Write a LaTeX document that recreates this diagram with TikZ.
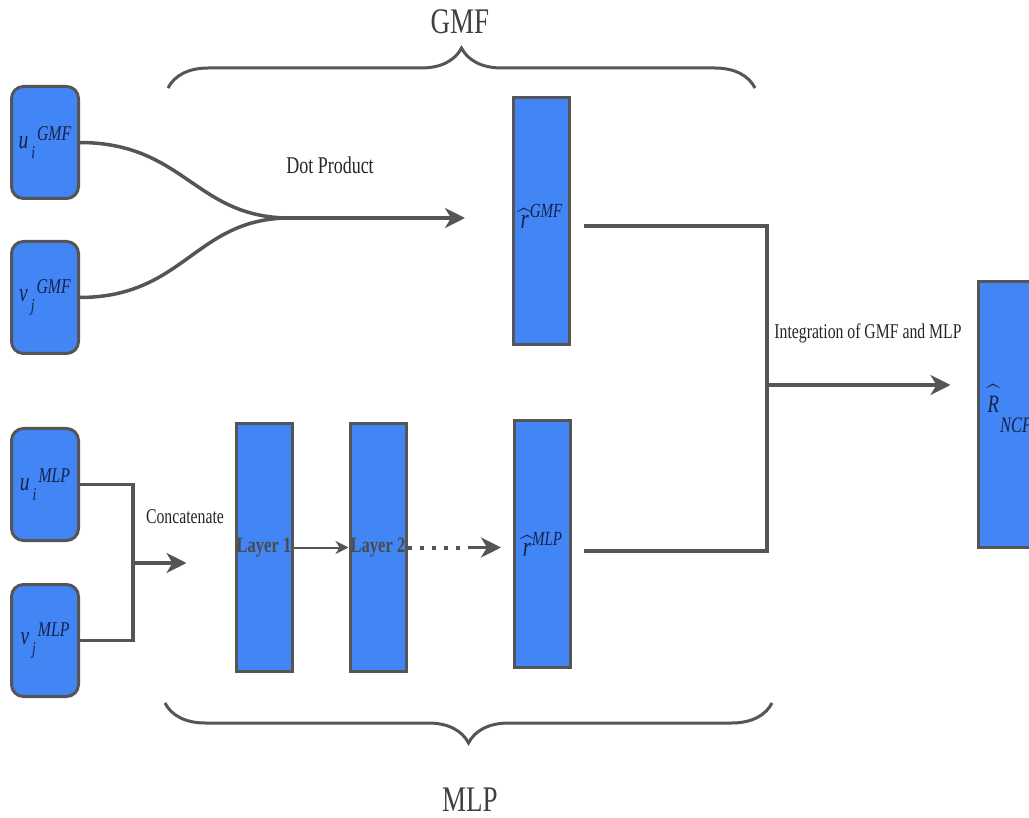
\documentclass[tikz,border=0pt]{standalone}
\usepackage{fix-cm}
\usepackage{exscale}
\usepackage{fontspec}
\setmainfont{Liberation Serif}[FakeStretch=0.75]
\usetikzlibrary{arrows.meta,positioning,decorations.pathreplacing}
\definecolor{boxblue}{HTML}{4285F4}
\definecolor{edgegray}{HTML}{555555}
\definecolor{inkblue}{HTML}{14224A}
\definecolor{layergray}{HTML}{4A4A4A}
% letter with sub- and superscript, as in the embedding blocks
\newcommand{\embtext}[3]{{\fontsize{26}{26}\selectfont\textit{#1}}\kern3pt\raisebox{-10pt}{\fontsize{18}{18}\selectfont\textit{#2}}\kern2pt\raisebox{8pt}{\fontsize{21}{21}\selectfont\textit{#3}}}
% letter with a hat over it
\newcommand{\hatletter}[2]{\ooalign{\textit{#1}\cr\hidewidth\raisebox{#2}{$\widehat{\phantom{r}}$}\hidewidth\cr}}

\begin{document}
\begin{tikzpicture}[x=1pt,y=-1pt,
		embbox/.style={draw=edgegray, line width=3pt, fill=boxblue, rounded corners=12pt,
			minimum width=67pt, minimum height=112pt, inner sep=0pt, text=inkblue},
		layerbox/.style={draw=edgegray, line width=3pt, fill=boxblue,
			minimum width=56pt, minimum height=247pt, inner sep=0pt},
		conn/.style={draw=edgegray, line width=3.5pt},
		arr/.style={conn, -{Stealth[length=20pt,width=20pt,inset=6pt]}},
		caption/.style={text=black!85, font=\fontsize{21}{24}\selectfont},
		bigcaption/.style={text=black!75, font=\fontsize{36}{40}\selectfont},
		curly/.style={draw=edgegray, line width=3pt, decorate,
			decoration={brace, amplitude=40pt}}]
		\useasboundingbox (0,0) rectangle (1029,818);
		\clip (0,0) rectangle (1029,818);
		
		%Embedding blocks
		\node[embbox] (ugmf) at (45,142.5){\embtext{u}{i}{GMF}};
		\node[embbox, below=40pt of ugmf] (vgmf){\embtext{v}{j}{GMF}};
		\node[embbox] (umlp) at (45,484.5){\embtext{u}{i}{MLP}};
		\node[embbox, below=41pt of umlp] (vmlp){\embtext{v}{j}{MLP}};
		
		%GMF part
		\node[layerbox, text=inkblue, font=\fontsize{28}{28}\selectfont] (rgmf) at (541.5,221.5){\raisebox{10pt}{\hatletter{r}{1pt}\kern1pt\raisebox{11pt}{\fontsize{20}{20}\selectfont\textit{GMF}}}};
		\coordinate (dotjoin) at (290,218);
		\coordinate (dotend) at (465,218);
		\draw[conn] (ugmf.east) .. controls (185,143) and (195,218) .. (dotjoin);
		\draw[conn] (vgmf.east) .. controls (185,297) and (195,218) .. (dotjoin);
		\draw[arr] (dotjoin) -- (dotend);
		\node[caption, font=\fontsize{24}{26}\selectfont] (dotlabel) at (330,165){Dot Product};
		
		%MLP part
		\node[layerbox, text=layergray, font=\bfseries\fontsize{22}{22}\selectfont] (layer1) at (264,547.5){Layer 1};
		\node[layerbox, text=layergray, font=\bfseries\fontsize{22}{22}\selectfont, right=55pt of layer1] (layer2){Layer 2};
		\node[layerbox, text=inkblue, font=\fontsize{28}{28}\selectfont] (rmlp) at (542.5,544){\raisebox{-4pt}{\hatletter{r}{1pt}\kern1pt\raisebox{11pt}{\fontsize{20}{20}\selectfont\textit{MLP}}}};
		\coordinate (catbus) at (133,563);
		\draw[conn] (umlp.east) -| (catbus) |- (vmlp.east);
		\draw[arr] (catbus) -- ([xshift=-48pt,yshift=-15.5pt]layer1.west);
		\node[caption] (catlabel) at (185,517){Concatenate};
		\draw[edgegray, line width=2pt, -{Stealth[length=13pt,width=13pt,inset=4pt]}] (layer1.east) -- (layer2.west);
		\draw[edgegray, line width=4pt, dash pattern=on 4pt off 8pt] (layer2.east) -- ++(60,0) coordinate (dotsend);
		\draw[arr] (dotsend) -- ([xshift=-12pt,yshift=-3.5pt]rmlp.west);
		
		%Integration
		\node[layerbox, minimum width=64pt, minimum height=266pt, text=inkblue, font=\fontsize{25}{25}\selectfont] (rncf) at (1010,414.5){\raisebox{8pt}{\hatletter{R}{10pt}}\kern1pt\raisebox{-12pt}{\fontsize{22}{22}\selectfont\textit{NCF}}};
		\coordinate (intbus) at (767,385);
		\draw[conn] ([xshift=13pt,yshift=-4.5pt]rgmf.east) -| (intbus) |- ([xshift=12pt,yshift=-7pt]rmlp.east);
		\draw[arr] (intbus) -- ([xshift=-26pt,yshift=29.5pt]rncf.west);
		\node[caption] (intlabel) at (868,333){Integration of GMF and MLP};
		
		%Braces
		\draw[curly] (168,88) -- (755,88);
		\node[bigcaption] (gmflabel) at (460,22){GMF};
		\draw[curly] (772,703) -- (165,703);
		\node[bigcaption] (mlplabel) at (470,800){MLP};
	\end{tikzpicture}
\end{document}
